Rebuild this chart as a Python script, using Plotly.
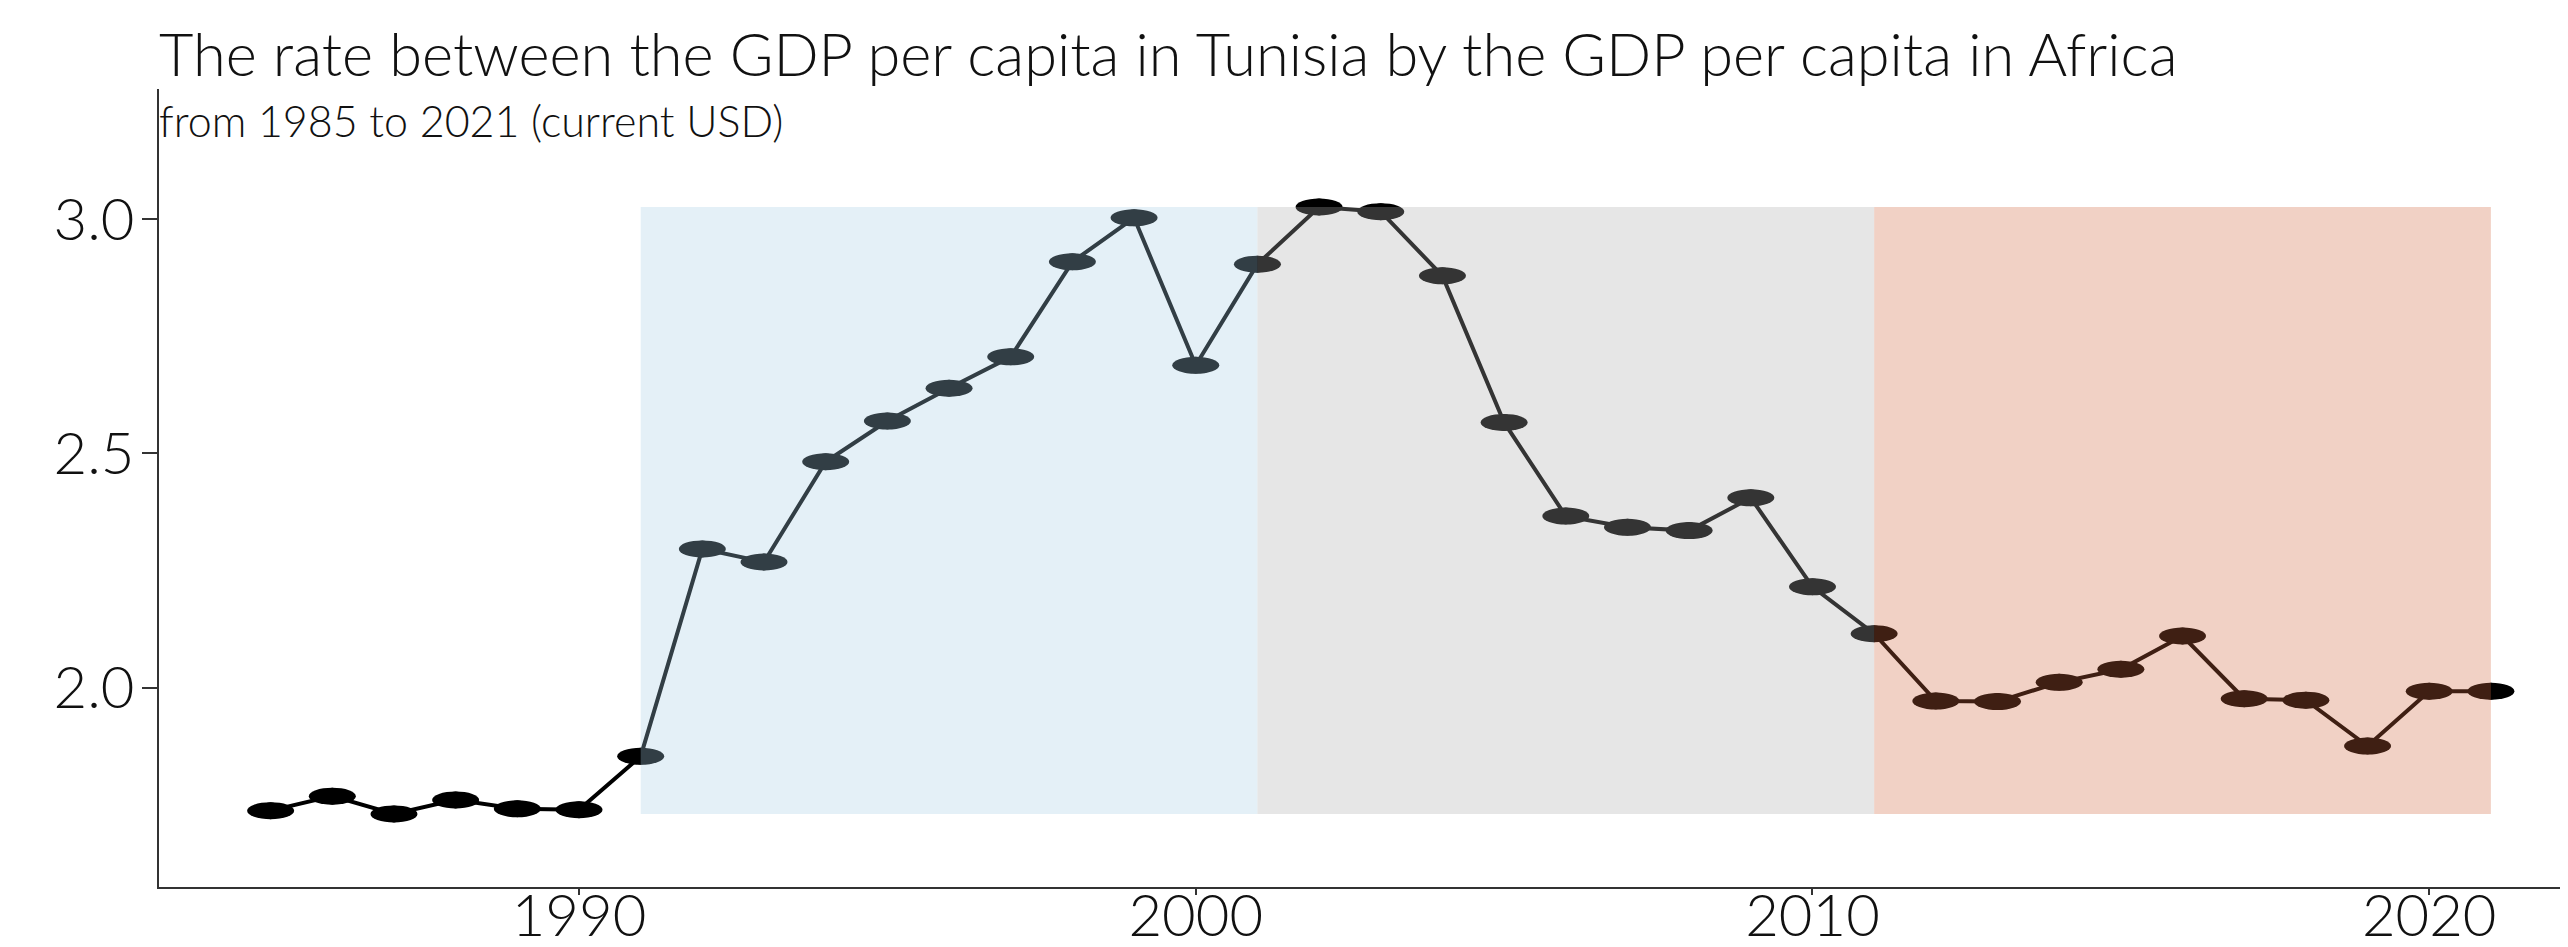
import plotly.graph_objects as go

years = list(range(1985, 2022))
ratio = [1.737, 1.768, 1.730, 1.760, 1.741, 1.739, 1.853, 2.296, 2.268, 2.482,
         2.569, 2.639, 2.706, 2.909, 3.003, 2.688, 2.904, 3.026, 3.016, 2.879,
         2.566, 2.366, 2.342, 2.335, 2.405, 2.215, 2.115, 1.971, 1.970, 2.011,
         2.039, 2.110, 1.976, 1.973, 1.875, 1.992, 1.992]

period_starts = [1991, 2001, 2011]
period_ends = [2001, 2011, 2021]
period_colors = ["rgb(166,206,227)", "rgb(172,172,172)", "rgb(208,102,62)"]

x_ticks = [1990, 2000, 2010, 2020]
y_ticks = [2.0, 2.5, 3.0]

title_text = "The rate between the GDP per capita in Tunisia by the GDP per capita in Africa"
subtitle_text = "from 1985 to 2021 (current USD)"

# the page body adds an 8px offset; size the figure to fit the window
OFF = 8
W, H = 2560, 939
ML, MR, MT, MB = 151, 0, 81, 60
plot_h = H - MT - MB
plot_w = W - ML - MR

FONT = "Lato Light, Lato, sans-serif"

fig = go.Figure()
fig.add_trace(go.Scatter(
    x=years, y=ratio, mode="lines+markers",
    line=dict(color="black", width=4),
    marker=dict(color="black", size=17, line=dict(width=0)),
    showlegend=False, hoverinfo="x+y", cliponaxis=False,
))

shapes = []
# elliptical point markers (pixel-sized, anchored at data values)
for xv, yv in zip(years, ratio):
    shapes.append(dict(type="circle", xref="x", yref="y",
                       xsizemode="pixel", ysizemode="pixel",
                       xanchor=xv, yanchor=yv,
                       x0=-23.5, x1=23.5, y0=-8.5, y1=8.5,
                       fillcolor="black", line=dict(width=0), layer="below"))
ymin, ymax = min(ratio), max(ratio)
for s, e, c in zip(period_starts, period_ends, period_colors):
    shapes.append(dict(type="rect", xref="x", yref="y", x0=s, x1=e, y0=ymin, y1=ymax,
                       fillcolor=c, opacity=0.3, line=dict(width=0), layer="above"))

def py(real_pix):
    return (H - MB - (real_pix - OFF)) / plot_h

fig.update_layout(
    width=W, height=H,
    margin=dict(l=ML, r=MR, t=MT, b=MB),
    paper_bgcolor="white", plot_bgcolor="white",
    font=dict(family=FONT, weight=300, color="#111111", size=58),
    shapes=shapes,
    annotations=[
        dict(text=title_text, xref="paper", yref="paper", x=-2 / plot_w, y=py(53),
             xanchor="left", yanchor="middle", showarrow=False,
             font=dict(family=FONT, weight=300, size=59.5, color="#111111")),
        dict(text=subtitle_text, xref="paper", yref="paper", x=-2 / plot_w, y=py(120),
             xanchor="left", yanchor="middle", showarrow=False,
             font=dict(family=FONT, weight=300, size=43, color="#111111")),
    ],
    xaxis=dict(range=[1983.19, 2022.25], tickvals=x_ticks, ticktext=[str(v) for v in x_ticks],
               showgrid=False, zeroline=False, showline=True, linecolor="#333333", linewidth=2,
               ticks="outside", ticklen=6, tickwidth=1.5, tickcolor="#333333",
               ticklabelstandoff=-29, automargin=False,
               tickfont=dict(family=FONT, weight=300, size=58, color="#111111")),
    yaxis=dict(range=[1.574, 3.278], tickvals=y_ticks, ticktext=["2.0", "2.5", "3.0"],
               showgrid=False, zeroline=False, showline=True, linecolor="#333333", linewidth=2,
               ticks="outside", ticklen=15, tickwidth=1.5, tickcolor="#333333",
               ticklabelstandoff=-4, automargin=False,
               tickfont=dict(family=FONT, weight=300, size=58, color="#111111")),
)

fig.write_html("out.html")
